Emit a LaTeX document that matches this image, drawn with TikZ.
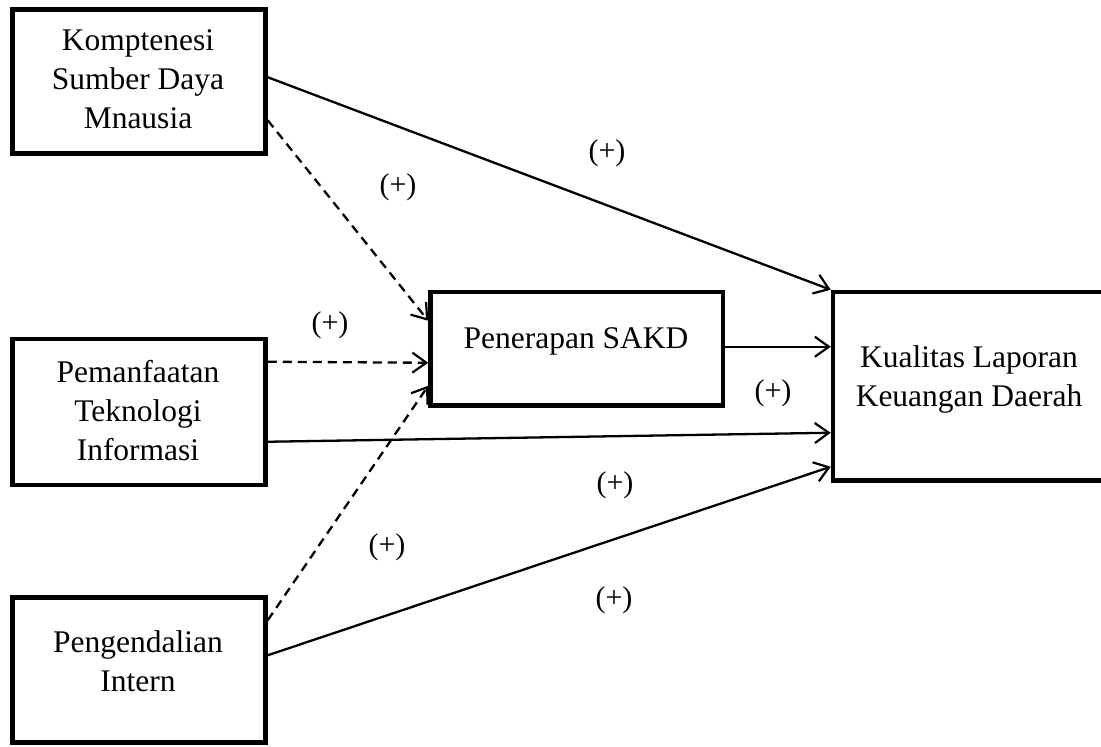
\documentclass[tikz,border=0pt]{standalone}
\usepackage{fontspec}
\setmainfont{Liberation Serif}
\usetikzlibrary{arrows.meta,calc}
\tikzset{
  box/.style={draw=black, line width=4.5pt, inner sep=0pt, rectangle},
  lbl/.style={inner sep=0pt, anchor=base, font=\fontsize{31.5}{39}\selectfont},
  plus/.style={inner sep=0pt, anchor=center, font=\fontsize{30}{36}\selectfont},
  link/.style={line width=2.3pt, -{Straight Barb[length=14pt,width=20pt,line width=2.2pt]}},
  dlink/.style={link, dash pattern=on 9pt off 6pt}
}
\begin{document}
\begin{tikzpicture}[x=1pt,y=-1pt]
\useasboundingbox (0,0) rectangle (1101,747);
% boxes
\node[box, minimum width=253pt, minimum height=144pt] (b1) at (139,81.5) {};
\node[box, minimum width=253pt, minimum height=146pt] (b2) at (139,412) {};
\node[box, minimum width=253pt, minimum height=145pt] (b3) at (139,670) {};
\node[box, minimum width=292.5pt, minimum height=113.5pt] (pen) at (576.75,348.75) {};
\node[box, minimum width=279pt, minimum height=188.5pt] (kual) at (972.5,386.25) {};
% texts
\node[lbl] (t1) at (138,50) {\begin{tabular}[t]{@{}c@{}}Komptenesi\\Sumber Daya\\Mnausia\end{tabular}};
\node[lbl] (t2) at (138,382) {\begin{tabular}[t]{@{}c@{}}Pemanfaatan\\Teknologi\\Informasi\end{tabular}};
\node[lbl] (t3) at (138,652) {\begin{tabular}[t]{@{}c@{}}Pengendalian\\Intern\end{tabular}};
\node[lbl] (t4) at (576,348) {Penerapan SAKD};
\node[lbl] (t5) at (969,367) {\begin{tabular}[t]{@{}c@{}}Kualitas Laporan\\Keuangan Daerah\end{tabular}};
% connectors
\draw[link] ($(b1.north east)+(0,70)$) -- (kual.north west);
\draw[dlink] ($(b1.north east)+(0,113)$) -- ($(pen.north west)+(0,31)$);
\draw[dlink] ($(b2.north east)+(0,25)$) -- ($(pen.north west)+(0,73)$);
\draw[dlink] ($(b3.north east)+(0,25)$) -- ($(pen.north west)+(0,96)$);
\draw[link] ($(pen.north east)+(0,57)$) -- ($(kual.north west)+(0,57)$);
\draw[link] ($(b2.north east)+(0,105)$) -- ($(kual.north west)+(0,143)$);
\draw[link] ($(b3.north east)+(0,60)$) -- ($(kual.north west)+(0,177)$);
% labels
\node[plus] (p1) at (607,153) {(+)};
\node[plus] (p2) at (398,187) {(+)};
\node[plus] (p3) at (330,325) {(+)};
\node[plus] (p4) at (773,393) {(+)};
\node[plus] (p5) at (615,485) {(+)};
\node[plus] (p6) at (387,547) {(+)};
\node[plus] (p7) at (614,600) {(+)};
\end{tikzpicture}
\end{document}
